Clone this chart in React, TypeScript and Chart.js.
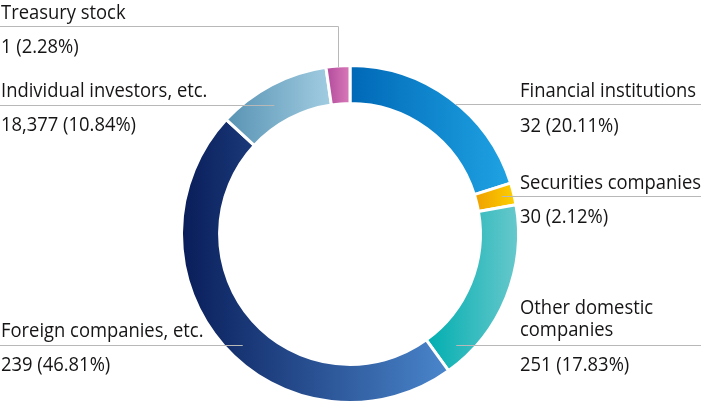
import React, { useEffect, useRef } from "react";
import { Chart, registerables } from "chart.js";

Chart.register(...registerables);

// ---- data ----
const categories: string[] = [
  "Financial institutions",
  "Securities companies",
  "Other domestic companies",
  "Foreign companies, etc.",
  "Individual investors, etc.",
  "Treasury stock",
];
const holders: number[] = [32, 30, 251, 239, 18377, 1];
const percentages: number[] = [20.11, 2.12, 17.83, 46.81, 10.84, 2.28];

// ---- styles ----
const gradientStops: string[][] = [
  ["#0068b7", "#1fa3e3"],
  ["#ef9f00", "#fdd000"],
  ["#00aeb0", "#68c8cc"],
  ["#091d5a", "#4a86cc"],
  ["#5893b3", "#a2cde2"],
  ["#b24a9c", "#d97ab9"],
];
const RADIUS = 168.5;
const CUTOUT = 0.774;
const BORDER = 3;
const FONT = '19.5px "Open Sans", "Noto Sans", sans-serif';
const TEXT_COLOR = "#161414";
const LINE_COLOR = "#b8b8b8";

type LabelLayout = {
  side: "left" | "right";
  titleLines: string[];
  titleY: number[];
  valueY: number;
  lineY: number;
  frac: number; // where the leader meets the ring (0 inner, 1 outer); -1 = vertical to mid-angle
};
const labelLayout: LabelLayout[] = [
  { side: "right", titleLines: ["Financial institutions"], titleY: [96.5], valueY: 132, lineY: 104.5, frac: 1.0 },
  { side: "right", titleLines: ["Securities companies"], titleY: [188.5], valueY: 222.5, lineY: 196.5, frac: 0.7 },
  { side: "right", titleLines: ["Other domestic", "companies"], titleY: [313.5, 336], valueY: 370.5, lineY: 345.5, frac: 0.63 },
  { side: "left", titleLines: ["Foreign companies, etc."], titleY: [336.5], valueY: 370.5, lineY: 345.5, frac: 0.65 },
  { side: "left", titleLines: ["Individual investors, etc."], titleY: [96.5], valueY: 130.5, lineY: 105.5, frac: 0.49 },
  { side: "left", titleLines: ["Treasury stock"], titleY: [18.5], valueY: 53, lineY: 26.5, frac: -1 },
];
const LEFT_X = 1;
const RIGHT_X = 520;

function segmentAngles(i: number): [number, number] {
  const total = percentages.reduce((a, b) => a + b, 0);
  let acc = 0;
  for (let k = 0; k < i; k++) acc += percentages[k];
  const a0 = -Math.PI / 2 + (acc / total) * Math.PI * 2;
  const a1 = -Math.PI / 2 + ((acc + percentages[i]) / total) * Math.PI * 2;
  return [a0, a1];
}

function makeGradient(chart: any, i: number) {
  const ca = chart.chartArea;
  if (!ca || i === undefined || i === null) return gradientStops[i ?? 0][0];
  const cx = (ca.left + ca.right) / 2;
  const [a0, a1] = segmentAngles(i);
  let minX = Infinity;
  let maxX = -Infinity;
  const rs = [RADIUS, RADIUS * CUTOUT];
  for (let s = 0; s <= 60; s++) {
    const a = a0 + ((a1 - a0) * s) / 60;
    for (const r of rs) {
      const x = cx + r * Math.cos(a);
      if (x < minX) minX = x;
      if (x > maxX) maxX = x;
    }
  }
  const g = chart.ctx.createLinearGradient(minX, 0, maxX, 0);
  g.addColorStop(0, gradientStops[i][0]);
  g.addColorStop(1, gradientStops[i][1]);
  return g;
}

const labelPlugin = {
  id: "leaderLabels",
  afterDraw(chart: any) {
    const ctx: CanvasRenderingContext2D = chart.ctx;
    const meta = chart.getDatasetMeta(0);
    ctx.save();
    ctx.font = FONT;
    const sx = 176 / ctx.measureText("Financial institutions").width;
    labelLayout.forEach((lab, i) => {
      const arc = meta.data[i];
      if (!arc) return;
      const cx = arc.x;
      const cy = arc.y;
      const rO = arc.outerRadius - BORDER / 2;
      const rI = arc.innerRadius + BORDER / 2;
      ctx.strokeStyle = LINE_COLOR;
      ctx.lineWidth = 1;
      ctx.beginPath();
      if (lab.frac < 0) {
        const mid = (arc.startAngle + arc.endAngle) / 2;
        const px = Math.round(cx + rO * Math.cos(mid)) + 0.5;
        const py = cy + rO * Math.sin(mid);
        ctx.moveTo(0, lab.lineY);
        ctx.lineTo(px, lab.lineY);
        ctx.lineTo(px, py);
      } else {
        const r = rI + lab.frac * (rO - rI);
        const dy = lab.lineY - cy;
        const dx = Math.sqrt(Math.max(r * r - dy * dy, 0));
        if (lab.side === "right") {
          ctx.moveTo(cx + dx, lab.lineY);
          ctx.lineTo(chart.width, lab.lineY);
        } else {
          ctx.moveTo(0, lab.lineY);
          ctx.lineTo(cx - dx, lab.lineY);
        }
      }
      ctx.stroke();

      const tx = lab.side === "right" ? RIGHT_X : LEFT_X;
      ctx.fillStyle = TEXT_COLOR;
      ctx.textAlign = "left";
      ctx.textBaseline = "alphabetic";
      const drawText = (t: string, y: number) => {
        ctx.save();
        ctx.translate(tx, y);
        ctx.scale(sx, 1);
        ctx.fillText(t, 0, 0);
        ctx.restore();
      };
      lab.titleLines.forEach((t, k) => drawText(t, lab.titleY[k]));
      const value = `${holders[i].toLocaleString("en-US")} (${percentages[i].toFixed(2)}%)`;
      drawText(value, lab.valueY);
    });
    ctx.restore();
  },
};

export default function App() {
  const ref = useRef<HTMLCanvasElement | null>(null);
  useEffect(() => {
    if (!ref.current) return;
    const chart = new Chart(ref.current, {
      type: "doughnut",
      data: {
        labels: categories,
        datasets: [
          {
            data: percentages,
            backgroundColor: (c: any) => makeGradient(c.chart, c.dataIndex),
            borderColor: "#ffffff",
            borderWidth: BORDER,
            hoverOffset: 0,
          },
        ],
      },
      options: {
        responsive: false,
        animation: false,
        radius: RADIUS,
        cutout: `${CUTOUT * 100}%`,
        layout: { padding: { top: 64, bottom: 1, left: 0, right: 1 } },
        plugins: {
          legend: { display: false },
          tooltip: { enabled: false },
        },
        events: [],
      } as any,
      plugins: [labelPlugin],
    });
    return () => chart.destroy();
  }, []);
  return (
    <div style={{ position: "fixed", left: 0, top: 0, width: 701, height: 405, background: "#fff" }}>
      <canvas ref={ref} width={701} height={405} style={{ display: "block" }} />
    </div>
  );
}
